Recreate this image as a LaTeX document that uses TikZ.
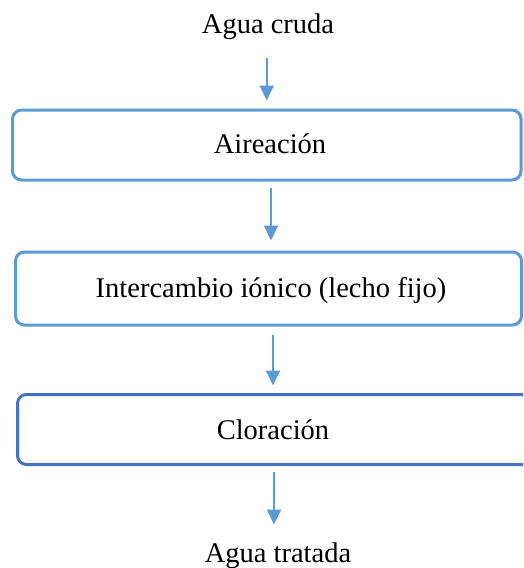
\documentclass[tikz,border=0pt]{standalone}
\usepackage{fontspec}
\setmainfont{Liberation Serif}
\usetikzlibrary{arrows.meta}
\definecolor{lblue}{HTML}{5B9BD5}
\definecolor{dblue}{HTML}{4472C4}
\tikzset{
  stagebox/.style={draw=lblue, line width=3pt, rounded corners=9pt, inner sep=0pt, fill=white},
  lbl/.style={inner sep=0pt, anchor=base},
  arr/.style={draw=lblue, line width=2pt, -{Triangle[length=15pt,width=14pt]}},
}
\begin{document}
\begin{tikzpicture}[x=1pt,y=-1pt,font=\fontsize{28.5}{34}\selectfont]
\useasboundingbox (0,0) rectangle (523,568);
\clip (0,0) rectangle (523,568);
\node[lbl] (in) at (268,33) {Agua cruda};
\node[stagebox, minimum width=508.5pt, minimum height=70pt] (b1) at (266.75,145) {};
\node[lbl] (t1) at (270,153) {Aireación};
\node[stagebox, minimum width=506pt, minimum height=73pt] (b2) at (268.5,288.5) {};
\node[lbl] (t2) at (271,297) {Intercambio iónico (lecho fijo)};
\node[stagebox, draw=dblue, minimum width=514pt, minimum height=70pt] (b3) at (274.5,429.5) {};
\node[lbl] (t3) at (273,439) {Cloración};
\node[lbl] (out) at (278,562) {Agua tratada};
\draw[arr, shorten <=19pt, shorten >=8pt] (b1.north |- in.south) -- (b1.north);
\draw[arr, shorten <=6pt, shorten >=10pt] ([xshift=2.5pt]b2.north |- b1.south) -- ([xshift=2.5pt]b2.north);
\draw[arr, shorten <=8pt, shorten >=7.5pt] ([xshift=4.5pt]b2.south) -- ([xshift=4.5pt]b2.south |- b3.north);
\draw[arr, shorten <=5.5pt, shorten >=17.5pt] ([xshift=-0.5pt]b3.south) -- ([xshift=-0.5pt]b3.south |- out.north);
\end{tikzpicture}
\end{document}
